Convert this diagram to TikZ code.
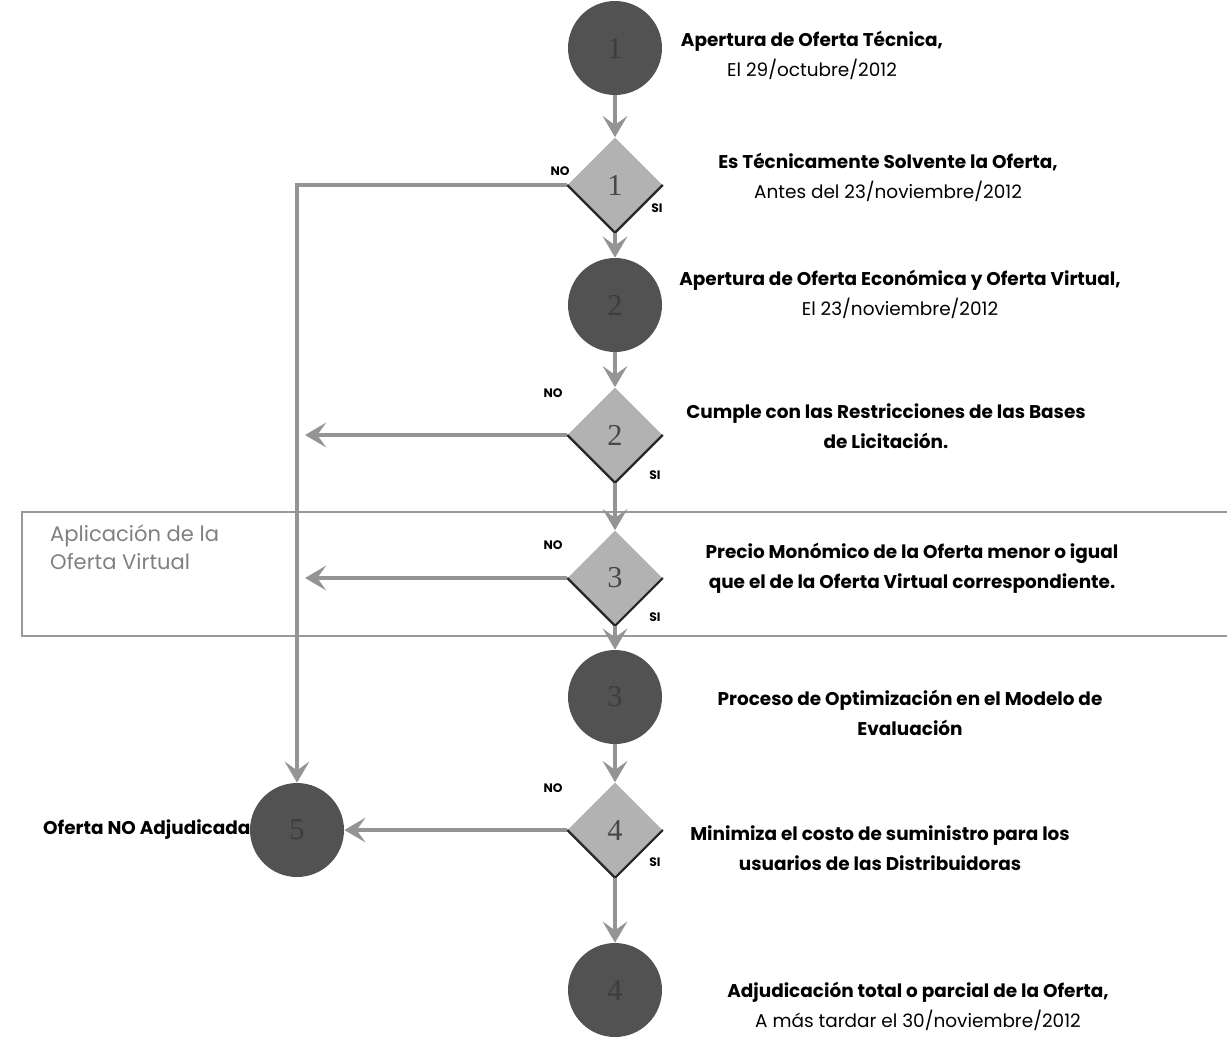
\documentclass[tikz,border=0pt]{standalone}
\usepackage{fontspec}
\setmainfont{Poppins}
\newfontfamily\numfont{Liberation Serif}
\usetikzlibrary{positioning, shapes.geometric, arrows.meta}
\tikzset{
    estado/.style = {
        circle, fill = black!68,
        minimum size = 1.88cm, inner sep = 0pt,
        font = \numfont\LARGE, text = black!76
    },
    decision/.style = {
        diamond, fill = black!30, aspect = 1,
        minimum width = 1.9cm, minimum height = 1.9cm, inner sep = 0pt,
        font = \numfont\LARGE, text = black!72
    },
    flecha/.style = {draw = black!42, line width = 2.4pt, -{Stealth[length=12pt, width=14pt, inset=5pt]}},
    texto/.style = {align = center, font = \fontsize{10.5}{17}\selectfont},
    negrita/.style = {align = center, font = \fontsize{10.5}{17}\selectfont\bfseries},
    etiqueta/.style = {font = \fontsize{7}{8}\selectfont\bfseries},
    sombra/.style = {draw = black!85, line width = 1.3pt}
}

\begin{document}
\begin{tikzpicture}[x=0.02cm, y=-0.02cm]

    \useasboundingbox (0,0) rectangle (1227,1039);

    % Oferta Virtual frame
    \draw[black!40, line width = 1.5pt] (22,512) rectangle (1240,636);
    \node[anchor = north west, align = left, text = black!50,
          font = \fontsize{12}{16}\selectfont] (virtual) at (44,519) {Aplicación de la\\Oferta Virtual};

    % Shapes
    \node[estado] (c1) at (615,48) {1};
    \node[decision] (d1) at (615,185) {1};
    \node[estado] (c2) at (615,305) {2};
    \node[decision] (d2) at (615,435) {2};
    \node[decision] (d3) at (615,578) {3};
    \node[estado] (c3) at (615,697) {3};
    \node[decision] (d4) at (615,830) {4};
    \node[estado] (c4) at (615,990) {4};
    \node[estado] (c5) at (297,830) {5};

    % Diamond shadows
    \foreach \d in {d1, d2, d3, d4}
        \draw[sombra] (\d.west) -- (\d.south) -- (\d.east);

    % Texts
    \node[texto] (t1) at (812,55) {\textbf{Apertura de Oferta Técnica,}\\El 29/octubre/2012};
    \node[texto] (t2) at (888,177) {\textbf{Es Técnicamente Solvente la Oferta,}\\Antes del 23/noviembre/2012};
    \node[texto] (t3) at (900,294) {\textbf{Apertura de Oferta Económica y Oferta Virtual,}\\El 23/noviembre/2012};
    \node[negrita] (t4) at (886,426) {Cumple con las Restricciones de las Bases\\de Licitación.};
    \node[negrita] (t5) at (912,568) {Precio Monómico de la Oferta menor o igual\\que el de la Oferta Virtual correspondiente.};
    \node[negrita] (t6) at (910,713) {Proceso de Optimización en el Modelo de\\Evaluación};
    \node[negrita] (t7) at (880,848) {Minimiza el costo de suministro para los\\usuarios de las Distribuidoras};
    \node[texto] (t8) at (918,1006) {\textbf{Adjudicación total o parcial de la Oferta,}\\A más tardar el 30/noviembre/2012};
    \node[negrita, left = -4pt of c5] (t9) {Oferta NO Adjudicada};

    % NO / SI labels
    \node[etiqueta] (no1) at (560,171) {NO};
    \node[etiqueta] (si1) at (657,208) {SI};
    \node[etiqueta] (no2) at (553,393) {NO};
    \node[etiqueta] (si2) at (655,475) {SI};
    \node[etiqueta] (no3) at (553,545) {NO};
    \node[etiqueta] (si3) at (655,617) {SI};
    \node[etiqueta] (no4) at (553,788) {NO};
    \node[etiqueta] (si4) at (655,862) {SI};

    % Lines
    \draw[flecha] (c1.south) -- (d1.north);
    \draw[flecha] (d1.south) -- (c2.north);
    \draw[flecha] (c2.south) -- (d2.north);
    \draw[flecha] (d2.south) -- (d3.north);
    \draw[flecha] (d3.south) -- (c3.north);
    \draw[flecha] (c3.south) -- (d4.north);
    \draw[flecha] (d4.south) -- (c4.north);
    \draw[flecha] (d1.west) -| (c5.north);
    \coordinate (m2) at (d2.west -| c5.north);
    \coordinate (m3) at (d3.west -| c5.north);
    \draw[flecha] (d2.west) -- ([xshift=0.16cm]m2);
    \draw[flecha] (d3.west) -- ([xshift=0.16cm]m3);
    \draw[flecha] (d4.west) -- (c5.east);

\end{tikzpicture}
\end{document}
